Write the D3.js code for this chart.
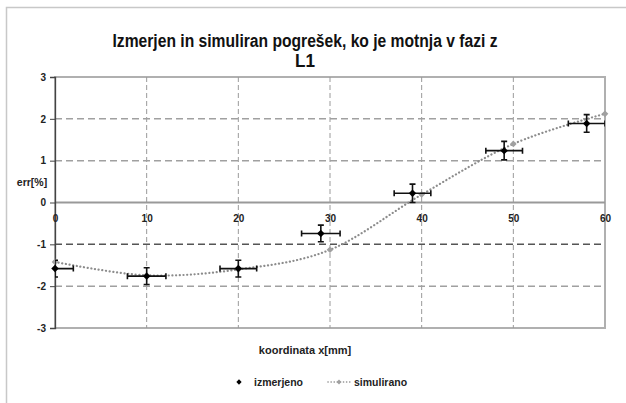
<!DOCTYPE html>
<html>
<head>
<meta charset="utf-8">
<script src="https://cdn.jsdelivr.net/npm/d3@7"></script>
<style>
  body { margin: 0; background: #fff; }
  text { font-family: "Liberation Sans", Arial, sans-serif; }
</style>
</head>
<body>
<svg width="626" height="403"></svg>
<script>
// measured values (izmerjeno) with error bars
var measX = [0, 10, 20, 29, 39, 49, 58];
var measY = [-1.58, -1.76, -1.58, -0.74, 0.22, 1.24, 1.89];
var measXerr = [2, 2.1, 2, 2.1, 2, 2, 2];
var measYerr = [0.2, 0.2, 0.2, 0.2, 0.22, 0.22, 0.21];

// simulated values (simulirano)
var simX = [0, 10, 20, 30, 40, 50, 60];
var simY = [-1.42, -1.74, -1.6, -1.13, 0.19, 1.4, 2.12];

var xTicks = [0, 10, 20, 30, 40, 50, 60];
var yTicks = [-3, -2, -1, 0, 1, 2, 3];

var svg = d3.select("svg");

// plot area bounds (careful: "top" is reserved on window)
var pLeft = 55, pRight = 605, pTop = 77, pBottom = 328;

var x = d3.scaleLinear().domain([0, 60]).range([pLeft, pRight]);
var y = d3.scaleLinear().domain([-3, 3]).range([pBottom, pTop]);

// plain hyphen for negatives, like the original
var fmt = function (d) { return String(d); };

// outer frame
svg.append("rect")
    .attr("x", 6.5).attr("y", 7.5)
    .attr("width", 640).attr("height", 420)
    .attr("fill", "none")
    .attr("stroke", "#c8c8c8")
    .attr("stroke-width", 1.5);

// title
svg.append("text")
    .attr("x", 305).attr("y", 47)
    .attr("text-anchor", "middle")
    .attr("font-size", 18).attr("font-weight", "bold")
    .attr("textLength", 385).attr("lengthAdjust", "spacingAndGlyphs")
    .attr("fill", "#111")
    .text("Izmerjen in simuliran pogrešek, ko je motnja v fazi z");
svg.append("text")
    .attr("x", 305).attr("y", 67)
    .attr("text-anchor", "middle")
    .attr("font-size", 18).attr("font-weight", "bold")
    .attr("textLength", 20).attr("lengthAdjust", "spacingAndGlyphs")
    .attr("fill", "#111")
    .text("L1");

// plot frame (grey)
svg.append("rect")
    .attr("x", pLeft).attr("y", pTop)
    .attr("width", pRight - pLeft).attr("height", pBottom - pTop)
    .attr("fill", "none")
    .attr("stroke", "#b0b0b0")
    .attr("stroke-width", 2);

// vertical grid
svg.append("g").selectAll("line")
    .data(xTicks.filter(function (d) { return d > 0 && d < 60; }))
    .enter().append("line")
    .attr("x1", function (d) { return x(d); })
    .attr("x2", function (d) { return x(d); })
    .attr("y1", pTop).attr("y2", pBottom)
    .attr("stroke", "#9a9a9a")
    .attr("stroke-width", 1)
    .attr("stroke-dasharray", "5,3");

// horizontal grid
svg.append("g").selectAll("line")
    .data(yTicks.filter(function (d) { return d != 0 && d != 3 && d != -3; }))
    .enter().append("line")
    .attr("x1", pLeft).attr("x2", pRight)
    .attr("y1", function (d) { return y(d); })
    .attr("y2", function (d) { return y(d); })
    .attr("stroke", function (d) { return d == -1 ? "#555" : "#a0a0a0"; })
    .attr("stroke-width", 1.5)
    .attr("stroke-dasharray", "7,4");

// zero line
svg.append("line")
    .attr("x1", pLeft).attr("x2", pRight)
    .attr("y1", y(0)).attr("y2", y(0))
    .attr("stroke", "#999")
    .attr("stroke-width", 1.8);

// y axis
var yAxis = d3.axisLeft(y).tickValues(yTicks).tickSize(5).tickFormat(fmt);
var gy = svg.append("g")
    .attr("transform", "translate(" + pLeft + ",0)")
    .call(yAxis);
gy.select(".domain").attr("stroke", "#444").attr("stroke-width", 1.3);
gy.selectAll(".tick line").attr("stroke", "#444");
gy.selectAll(".tick text")
    .attr("font-size", 10).attr("font-weight", "bold")
    .attr("fill", "#222").attr("x", -9);

// x tick labels under zero line
var xAxis = d3.axisBottom(x).tickValues(xTicks).tickSize(0).tickFormat(fmt);
var gx = svg.append("g")
    .attr("transform", "translate(0," + y(0) + ")")
    .call(xAxis);
gx.select(".domain").remove();
gx.selectAll(".tick text")
    .attr("font-size", 10).attr("font-weight", "bold")
    .attr("fill", "#222").attr("y", 12);

// axis titles
svg.append("text")
    .attr("x", 32).attr("y", 186)
    .attr("text-anchor", "middle")
    .attr("font-size", 10.5).attr("font-weight", "bold")
    .attr("fill", "#222")
    .text("err[%]");
svg.append("text")
    .attr("x", 305).attr("y", 354)
    .attr("text-anchor", "middle")
    .attr("font-size", 11).attr("font-weight", "bold")
    .attr("fill", "#222")
    .text("koordinata x[mm]");

// clip for data
svg.append("clipPath").attr("id", "plotclip")
    .append("rect")
    .attr("x", pLeft).attr("y", pTop)
    .attr("width", pRight - pLeft).attr("height", pBottom - pTop);

var sim = simX.map(function (d, i) { return [d, simY[i]]; });
var meas = measX.map(function (d, i) {
    return { x: d, y: measY[i], xe: measXerr[i], ye: measYerr[i] };
});

// Excel style diamond = square turned 45 degrees
var diamond = d3.symbol().type(d3.symbolSquare);

// simulated smooth dotted line
var line = d3.line()
    .x(function (d) { return x(d[0]); })
    .y(function (d) { return y(d[1]); })
    .curve(d3.curveCardinal.tension(0));

svg.append("path")
    .datum(sim)
    .attr("d", line)
    .attr("fill", "none")
    .attr("stroke", "#8c8c8c")
    .attr("stroke-width", 2.2)
    .attr("stroke-linecap", "round")
    .attr("stroke-dasharray", "0.1,3.6");

svg.append("g").selectAll("path")
    .data(sim)
    .enter().append("path")
    .attr("transform", function (d) { return "translate(" + x(d[0]) + "," + y(d[1]) + ") rotate(45)"; })
    .attr("d", diamond.size(22))
    .attr("fill", "#a0a0a0");

// measured with error bars
var eb = svg.append("g").attr("clip-path", "url(#plotclip)")
    .selectAll("g").data(meas).enter().append("g")
    .attr("stroke", "#111").attr("stroke-width", 1.6);

eb.append("line")
    .attr("x1", function (d) { return x(d.x - d.xe); })
    .attr("x2", function (d) { return x(d.x + d.xe); })
    .attr("y1", function (d) { return y(d.y); })
    .attr("y2", function (d) { return y(d.y); });
eb.append("line")
    .attr("x1", function (d) { return x(d.x); })
    .attr("x2", function (d) { return x(d.x); })
    .attr("y1", function (d) { return y(d.y - d.ye); })
    .attr("y2", function (d) { return y(d.y + d.ye); });
// caps
eb.append("path")
    .attr("fill", "none")
    .attr("d", function (d) {
        var cx = x(d.x), cy = y(d.y);
        var xl = x(d.x - d.xe), xr = x(d.x + d.xe);
        var yt = y(d.y + d.ye), yb = y(d.y - d.ye);
        return "M" + xl + "," + (cy - 3) + "V" + (cy + 3) +
            "M" + xr + "," + (cy - 3) + "V" + (cy + 3) +
            "M" + (cx - 3) + "," + yt + "H" + (cx + 3) +
            "M" + (cx - 3) + "," + yb + "H" + (cx + 3);
    });

svg.append("g").selectAll("path")
    .data(meas)
    .enter().append("path")
    .attr("transform", function (d) { return "translate(" + x(d.x) + "," + y(d.y) + ") rotate(45)"; })
    .attr("d", diamond.size(28))
    .attr("fill", "#000");

// legend
var lg = svg.append("g").attr("transform", "translate(0,386)");
lg.append("path")
    .attr("transform", "translate(239,-4) rotate(45)")
    .attr("d", diamond.size(14))
    .attr("fill", "#000");
lg.append("text")
    .attr("x", 254).attr("y", 0)
    .attr("font-size", 10.5).attr("font-weight", "bold")
    .attr("fill", "#222")
    .text("izmerjeno");
lg.append("line")
    .attr("x1", 328).attr("x2", 350)
    .attr("y1", -4).attr("y2", -4)
    .attr("stroke", "#8c8c8c")
    .attr("stroke-width", 1.6)
    .attr("stroke-linecap", "round")
    .attr("stroke-dasharray", "0.1,3");
lg.append("path")
    .attr("transform", "translate(339,-4) rotate(45)")
    .attr("d", diamond.size(12))
    .attr("fill", "#a0a0a0");
lg.append("text")
    .attr("x", 354).attr("y", 0)
    .attr("font-size", 10.5).attr("font-weight", "bold")
    .attr("fill", "#222")
    .text("simulirano");
</script>
</body>
</html>
